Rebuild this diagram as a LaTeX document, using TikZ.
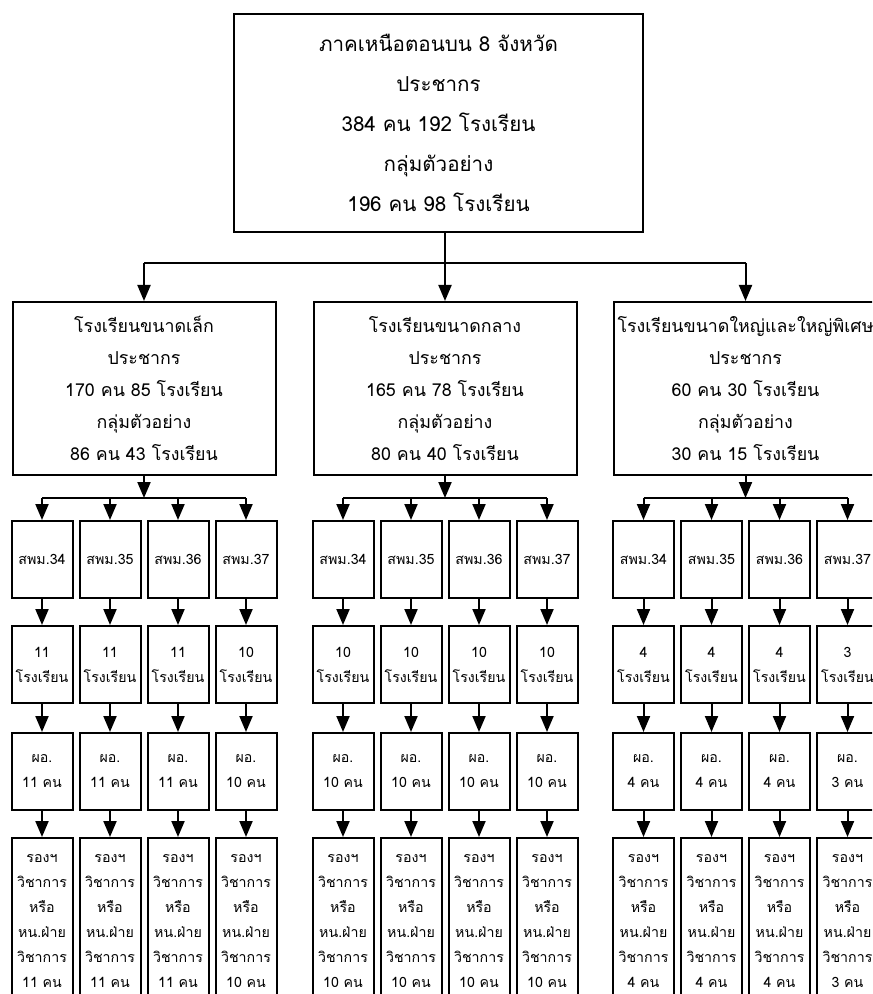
\documentclass[tikz,border=0pt]{standalone}
\usepackage{fontspec}
\newfontfamily\thaifont[Script=Thai]{Loma}
\usetikzlibrary{arrows.meta,calc}
\tikzset{
    topblock/.style = {draw, rectangle, line width=1pt, align=center,
        minimum width=204.5pt, minimum height=109pt, inner sep=0pt,
        font=\thaifont\fontsize{10.3}{20}\selectfont},
    grpblock/.style = {draw, rectangle, line width=1pt, align=center,
        minimum width=131.5pt, minimum height=86.5pt, inner sep=0pt,
        font=\thaifont\fontsize{8.9}{16}\selectfont},
    cell/.style = {draw, rectangle, line width=1pt, align=center,
        minimum width=30.5pt, minimum height=38.5pt, inner sep=0pt,
        font=\thaifont\fontsize{7.1}{12.5}\selectfont},
    tallcell/.style = {cell, minimum height=83pt},
    arrow/.style = {draw, line width=1pt, -{Triangle[length=8pt,width=6.5pt]}},
    line/.style = {draw, line width=1pt}
}
\begin{document}
\begin{tikzpicture}[x=0.5pt,y=-0.5pt]
\clip (0,0) rectangle (872,994);
\node[topblock] (top) at (438.5,123) {ภาคเหนือตอนบน 8 จังหวัด\\ประชากร\\384 คน 192 โรงเรียน\\กลุ่มตัวอย่าง\\196 คน 98 โรงเรียน};
\node[grpblock] (gA) at (144,388.5) {โรงเรียนขนาดเล็ก\\ประชากร\\170 คน 85 โรงเรียน\\กลุ่มตัวอย่าง\\86 คน 43 โรงเรียน};
\node[grpblock] (gB) at (445,388.5) {โรงเรียนขนาดกลาง\\ประชากร\\165 คน 78 โรงเรียน\\กลุ่มตัวอย่าง\\80 คน 40 โรงเรียน};
\node[grpblock] (gC) at (745.5,388.5) {โรงเรียนขนาดใหญ่และใหญ่พิเศษ\\ประชากร\\60 คน 30 โรงเรียน\\กลุ่มตัวอย่าง\\30 คน 15 โรงเรียน};
\coordinate (br) at (445,263);
\draw[line] (top.south -| br) -- (br);
\draw[line] (br -| gA) -- (br -| gC);
\foreach \g in {gA,gB,gC}
    \draw[arrow] (br -| \g) -- (\g.north);
\foreach \g/\cx/\na/\nb/\nc/\nd in {A/144/11/11/11/10, B/445/10/10/10/10, C/745.5/4/4/4/3}{
    \coordinate (b\g) at (\cx,498);
    \draw[arrow] (g\g.south) -- (b\g);
    \foreach \k/\dx/\n in {34/-102/\na, 35/-34/\nb, 36/34/\nc, 37/102/\nd}{
        \node[cell] (s\g\k) at (\cx+\dx,559.5) {สพม.\k};
        \node[cell] (r\g\k) at (\cx+\dx,664.5) {\n\\โรงเรียน};
        \node[cell] (d\g\k) at (\cx+\dx,771.5) {ผอ.\\\n\ คน};
        \node[tallcell] (v\g\k) at (\cx+\dx,921) {รองฯ\\วิชาการ\\หรือ\\หน.ฝ่าย\\วิชาการ\\\n\ คน};
        \draw[arrow] (s\g\k |- b\g) -- (s\g\k.north);
        \draw[arrow] (s\g\k) -- (r\g\k);
        \draw[arrow] (r\g\k) -- (d\g\k);
        \draw[arrow] (d\g\k) -- (v\g\k);
    }
    \draw[line] (s\g34 |- b\g) -- (s\g37 |- b\g);
}
\end{tikzpicture}
\end{document}
